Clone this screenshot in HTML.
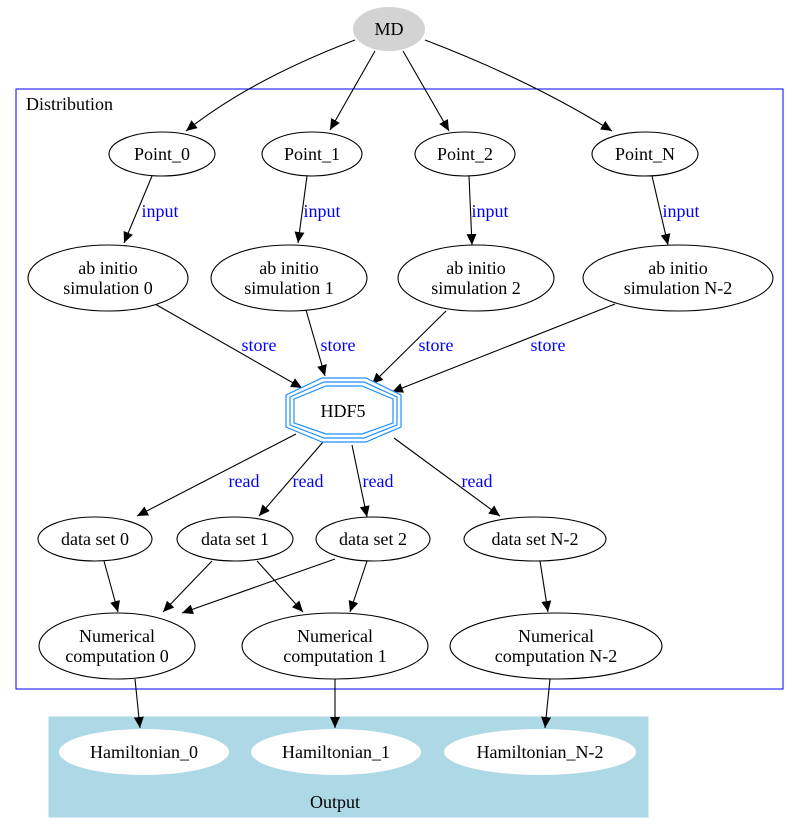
<!DOCTYPE html>
<html><head><meta charset="utf-8"><style>html,body{margin:0;padding:0;background:#fff}svg{display:block}text{font-family:"Liberation Serif",serif;font-size:18px}</style></head>
<body>
<svg width="800" height="833" viewBox="0 0 800 833" xmlns="http://www.w3.org/2000/svg">
<defs><marker id="a" markerUnits="userSpaceOnUse" markerWidth="12" markerHeight="10" refX="11" refY="5" orient="auto"><path d="M0,0 L11,5 L0,10 Z" fill="#000"/></marker></defs>
<rect x="16" y="89" width="767" height="600" fill="none" stroke="#00f"/>
<text x="26" y="110">Distribution</text>
<rect x="49" y="717" width="599" height="100" fill="#add8e6" stroke="#add8e6"/>
<text x="335" y="808" text-anchor="middle">Output</text>
<g fill="none" stroke="#000" stroke-width="1.1" marker-end="url(#a)">
<path d="M355,40 Q250,80 186,131"/>
<path d="M375,51 L330,130"/>
<path d="M403,51 L449,131"/>
<path d="M425,40 Q530,80 612,131"/>
<path d="M152,176 L124,243"/>
<path d="M307,176 L298,243"/>
<path d="M469,176 L472,245"/>
<path d="M652,176 L668,245"/>
<path d="M155,304 L302,388"/>
<path d="M306,310 L325,376"/>
<path d="M446,311 L372,384"/>
<path d="M615,304 L392,392"/>
<path d="M296,434 L137,516"/>
<path d="M323,442 L259,516"/>
<path d="M352,445 L367,517"/>
<path d="M394,438 L500,516"/>
<path d="M104,561 L118,612"/>
<path d="M212,561 L163,612"/>
<path d="M257,561 L303,612"/>
<path d="M335,559 L182,613"/>
<path d="M367,561 L350,612"/>
<path d="M540,561 L548,612"/>
<path d="M135,679 L140,728"/>
<path d="M335,679 L335,728"/>
<path d="M550,679 L545,728"/>
</g>
<g fill="#00f" text-anchor="middle">
<text x="160" y="217">input</text><text x="322" y="217">input</text><text x="490" y="217">input</text><text x="681" y="217">input</text>
<text x="259" y="351">store</text><text x="338" y="351">store</text><text x="436" y="351">store</text><text x="548" y="351">store</text>
<text x="244" y="487">read</text><text x="308" y="487">read</text><text x="378" y="487">read</text><text x="477" y="487">read</text>
</g>
<ellipse cx="389" cy="29" rx="36" ry="22" fill="#d3d3d3"/>
<text x="389" y="35" text-anchor="middle">MD</text>
<g fill="#fff" stroke="#000" stroke-width="1.1">
<ellipse cx="162" cy="154" rx="53" ry="22"/><ellipse cx="312" cy="154" rx="50" ry="22"/><ellipse cx="465" cy="154" rx="50" ry="22"/><ellipse cx="645" cy="154" rx="53" ry="22"/>
<ellipse cx="108" cy="278" rx="80" ry="33"/><ellipse cx="289" cy="278" rx="78" ry="33"/><ellipse cx="476" cy="278" rx="78" ry="33"/><ellipse cx="678" cy="278" rx="95" ry="33"/>
<ellipse cx="95" cy="539" rx="57" ry="22"/><ellipse cx="235" cy="539" rx="58" ry="22"/><ellipse cx="373" cy="539" rx="57" ry="22"/><ellipse cx="535" cy="539" rx="71" ry="22"/>
<ellipse cx="117" cy="646" rx="78" ry="33"/><ellipse cx="335" cy="646" rx="93" ry="33"/><ellipse cx="556" cy="646" rx="106" ry="33"/>
</g>
<g fill="#fff">
<ellipse cx="144" cy="752" rx="85" ry="23"/><ellipse cx="336" cy="752" rx="85" ry="23"/><ellipse cx="540" cy="752" rx="96" ry="23"/>
</g>
<g fill="#fff" stroke="#1e90ff" stroke-width="1.2">
<polygon points="322,378 366,378 401,395 401,427 366,442 322,442 286,427 286,395"/>
<polygon points="324,382 364,382 397,397 397,425 364,438 324,438 290,425 290,397"/>
<polygon points="326,386 362,386 393,399 393,423 362,434 326,434 294,423 294,399"/>
</g>
<g text-anchor="middle">
<text x="343" y="417">HDF5</text>
<text x="162" y="160">Point_0</text><text x="312" y="160">Point_1</text><text x="465" y="160">Point_2</text><text x="645" y="160">Point_N</text>
<text x="108" y="274">ab initio</text><text x="108" y="294">simulation 0</text>
<text x="289" y="274">ab initio</text><text x="289" y="294">simulation 1</text>
<text x="476" y="274">ab initio</text><text x="476" y="294">simulation 2</text>
<text x="678" y="274">ab initio</text><text x="678" y="294">simulation N-2</text>
<text x="95" y="545">data set 0</text><text x="235" y="545">data set 1</text><text x="373" y="545">data set 2</text><text x="535" y="545">data set N-2</text>
<text x="117" y="642">Numerical</text><text x="117" y="662">computation 0</text>
<text x="335" y="642">Numerical</text><text x="335" y="662">computation 1</text>
<text x="556" y="642">Numerical</text><text x="556" y="662">computation N-2</text>
<text x="144" y="758">Hamiltonian_0</text><text x="336" y="758">Hamiltonian_1</text><text x="540" y="758">Hamiltonian_N-2</text>
</g>
</svg>
</body></html>
